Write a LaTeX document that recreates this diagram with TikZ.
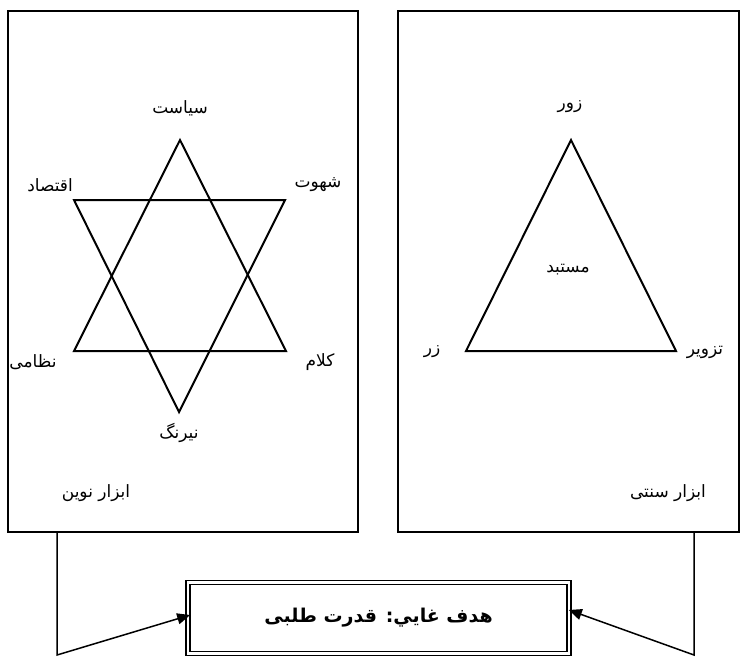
\documentclass[tikz,border=0pt]{standalone}
\usepackage{fontspec}
\newfontfamily\arabicfont[Script=Arabic]{DejaVu Sans}
\TeXXeTstate=1
\usetikzlibrary{arrows.meta,positioning,calc}
\newcommand{\fatext}[1]{\beginR #1\endR}

\begin{document}
\begin{tikzpicture}[
    x=1pt, y=-1pt,
    >={Triangle[length=13pt,width=11pt]},
    panel/.style={draw, line width=1.5pt, minimum height=521pt, inner sep=0pt},
    lbl/.style={font=\arabicfont\fontsize{17}{20}\selectfont, inner sep=1pt},
    edge/.style={line width=2pt, line join=miter},
    link/.style={line width=1.5pt},
    goalbox/.style={draw, double, line width=1.6pt, double distance=2.6pt,
      minimum width=381pt, minimum height=71pt,
      font=\arabicfont\bfseries\fontsize{19}{22}\selectfont}
  ]
  \useasboundingbox (0,0) rectangle (741,657);

  % the two panels
  \node[panel, minimum width=350pt] (lbox) at (183,271.5) {};
  \node[panel, minimum width=341pt] (rbox) at (568.5,271.5) {};

  % star of the new tools
  \coordinate (st) at (180,140);
  \coordinate (sb) at (179,412);
  \coordinate (sul) at (74,200);
  \coordinate (sur) at (285,200);
  \coordinate (sll) at (74,351);
  \coordinate (slr) at (286,351);
  \draw[edge] (st) -- (sll) -- (slr) -- cycle;
  \draw[edge] (sul) -- (sur) -- (sb) -- cycle;
  \node[lbl] (siyasat) at (180,108) {\fatext{سیاست}};
  \node[lbl] (eghtesad) at (50,185) {\fatext{اقتصاد}};
  \node[lbl] (shahvat) at (318,185) {\fatext{شهوت}};
  \node[lbl] (nezami) at (33,362) {\fatext{نظامی}};
  \node[lbl] (kalam) at (320,362) {\fatext{کلام}};
  \node[lbl] (neyrang) at (179,433) {\fatext{نیرنگ}};
  \node[lbl] (novin) at (96,493) {\fatext{ابزار نوین}};

  % triangle of the old tools
  \coordinate (tt) at (571,140);
  \coordinate (tl) at (466,351);
  \coordinate (tr) at (676,351);
  \draw[edge] (tt) -- (tl) -- (tr) -- cycle;
  \node[lbl] (zur) at (570,107) {\fatext{زور}};
  \node[lbl] (mostabed) at (568,270) {\fatext{مستبد}};
  \node[lbl] (zar) at (432,352) {\fatext{زر}};
  \node[lbl] (tazvir) at (705,352) {\fatext{تزویر}};
  \node[lbl] (sonnati) at (668,493) {\fatext{ابزار سنتی}};

  % goal
  \node[goalbox] (goal) at (378.5,618) {\fatext{هدف غايي: قدرت طلبی}};

  \coordinate (lc) at (57,655);
  \coordinate (rc) at (694,655);
  \draw[link,->] (lbox.south -| lc) -- (lc) -- ($(goal.west)+(3,-3)$);
  \draw[link,->] (rbox.south -| rc) -- (rc) -- ($(goal.east)+(-1,-8)$);
\end{tikzpicture}
\end{document}
